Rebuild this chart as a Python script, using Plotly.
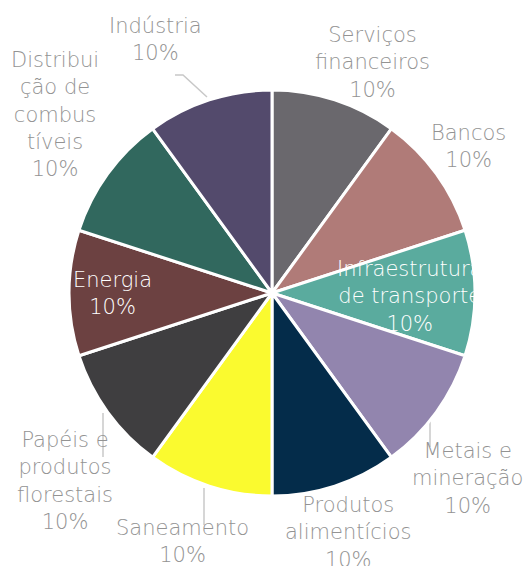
import plotly.graph_objects as go

labels = ["Serviços financeiros", "Bancos", "Infraestrutura de transporte",
          "Metais e mineração", "Produtos alimentícios", "Saneamento",
          "Papéis e produtos florestais", "Energia",
          "Distribuição de combustíveis", "Indústria"]
values = [10, 10, 10, 10, 10, 10, 10, 10, 10, 10]
label_lines = [["Serviços", "financeiros"], ["Bancos"], ["Infraestrutura", "de transporte"],
               ["Metais e", "mineração"], ["Produtos", "alimentícios"], ["Saneamento"],
               ["Papéis e", "produtos", "florestais"], ["Energia"],
               ["Distribui", "ção de", "combus", "tíveis"], ["Indústria"]]
colors = ["#6a686d", "#b07b78", "#5aab9e", "#9285ae", "#042c4a", "#fafa2f",
          "#3f3e40", "#6c4141", "#31685e", "#534a6c"]

OFF = 8  # page body margin
W, H = 531 - OFF, 566 - OFF
cx, cy, r = 272 - OFF, 293 - OFF, 203

# label anchor positions (page pixels) and text colours
label_pos = [(372, 62), (468, 147), (410, 296), (467, 478), (348, 532),
             (182, 541), (65, 481), (112, 293), (55, 115), (155, 40)]
label_col = ["#939393", "#939393", "#ffffff", "#939393", "#939393",
             "#939393", "#939393", "#ffffff", "#939393", "#939393"]

fig = go.Figure(go.Pie(
    labels=labels, values=values, sort=False, direction="clockwise", rotation=0,
    marker=dict(colors=colors, line=dict(color="white", width=3)),
    textinfo="none", hoverinfo="label+percent",
    domain=dict(x=[(cx - r) / W, (cx + r) / W], y=[(H - cy - r) / H, (H - cy + r) / H]),
    showlegend=False,
))

total = sum(values)
for lines, v, (px, py), col in zip(label_lines, values, label_pos, label_col):
    txt = "<br>".join(lines + [f"{round(100 * v / total)}%"])
    fig.add_annotation(x=(px - OFF) / W, y=1 - (py - OFF) / H, xref="paper", yref="paper",
                       text=txt, showarrow=False, xanchor="center", yanchor="middle",
                       font=dict(family="DejaVu Sans", size=21, color=col, weight=200))

leaders = [[(175, 75), (183, 75), (207, 97)],
           [(103, 413), (103, 457)],
           [(204, 488), (204, 525)],
           [(430, 413), (430, 447)]]
for pts in leaders:
    path = "M " + " L ".join(f"{(x - OFF) / W},{1 - (y - OFF) / H}" for x, y in pts)
    fig.add_shape(type="path", path=path, xref="paper", yref="paper",
                  line=dict(color="#c8c8c8", width=1.5), layer="below")

fig.update_layout(width=W, height=H, margin=dict(l=0, r=0, t=0, b=0),
                  paper_bgcolor="white", plot_bgcolor="white")
fig.write_html("out.html")
